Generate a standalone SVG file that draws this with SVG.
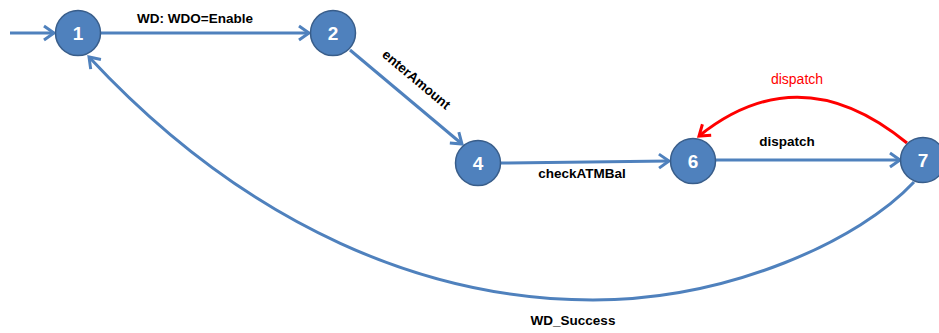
<svg xmlns="http://www.w3.org/2000/svg" width="939" height="333" viewBox="0 0 939 333">
<defs>
<style>
.edge{fill:none;stroke:#4F81BD;stroke-width:3;}
.red{fill:none;stroke:#FF0000;stroke-width:3;}
.node circle{fill:#4F81BD;stroke:#385D8A;stroke-width:1.5;}
.node text{fill:#FFFFFF;font-family:"Liberation Sans",Arial,sans-serif;font-weight:bold;font-size:19px;text-anchor:middle;}
.lbl{font-family:"Liberation Sans",Arial,sans-serif;font-weight:bold;font-size:13.5px;fill:#000000;text-anchor:middle;}
.lblred{font-family:"Liberation Sans",Arial,sans-serif;font-size:14px;fill:#FF0000;text-anchor:middle;}
</style>
<marker id="ab" markerUnits="userSpaceOnUse" viewBox="-13 -9 15 18" refX="0" refY="0" markerWidth="15" markerHeight="18" orient="auto" overflow="visible">
<path d="M -10 -7 L 0 0 L -10 7" fill="none" stroke="#4F81BD" stroke-width="3" stroke-linejoin="miter"/>
</marker>
<marker id="ar" markerUnits="userSpaceOnUse" viewBox="-13 -9 15 18" refX="0" refY="0" markerWidth="15" markerHeight="18" orient="auto" overflow="visible">
<path d="M -10 -7 L 0 0 L -10 7" fill="none" stroke="#FF0000" stroke-width="3" stroke-linejoin="miter"/>
</marker>
</defs>
<rect width="939" height="333" fill="#FFFFFF"/>
<g id="connectors">
<path class="edge" d="M 10 33 L 54 33" marker-end="url(#ab)"/>
<path class="edge" d="M 101 33 L 309 33" marker-end="url(#ab)"/>
<path class="edge" d="M 350 50 L 462 144" marker-end="url(#ab)"/>
<path class="edge" d="M 501 163 L 669 161" marker-end="url(#ab)"/>
<path class="edge" d="M 716 160 L 900 160" marker-end="url(#ab)"/>
<path class="red" d="M 907 143 Q 800 55 699 136" marker-end="url(#ar)"/>
<path class="edge" d="M 914 182 C 860 240 730 300 593 300 C 430 300 250 230 89 57" marker-end="url(#ab)"/>
<text class="lbl" x="195" y="23">WD: WDO=Enable</text>
<text class="lbl" transform="translate(416,80) rotate(40)" y="4">enterAmount</text>
<text class="lbl" x="582" y="178">checkATMBal</text>
<text class="lbl" x="787" y="146">dispatch</text>
<text class="lblred" x="797" y="84">dispatch</text>
<text class="lbl" x="573" y="325">WD_Success</text>
</g>
<g id="node1" class="node"><circle cx="78" cy="33" r="22.5"/><text x="78" y="40">1</text></g>
<g id="node2" class="node"><circle cx="333" cy="33" r="22.5"/><text x="333" y="40">2</text></g>
<g id="node4" class="node"><circle cx="478" cy="163" r="22.5"/><text x="478" y="170">4</text></g>
<g id="node6" class="node"><circle cx="693" cy="161" r="22.5"/><text x="693" y="168">6</text></g>
<g id="node7" class="node"><circle cx="923" cy="160" r="22.5"/><text x="923" y="167">7</text></g>
</svg>
